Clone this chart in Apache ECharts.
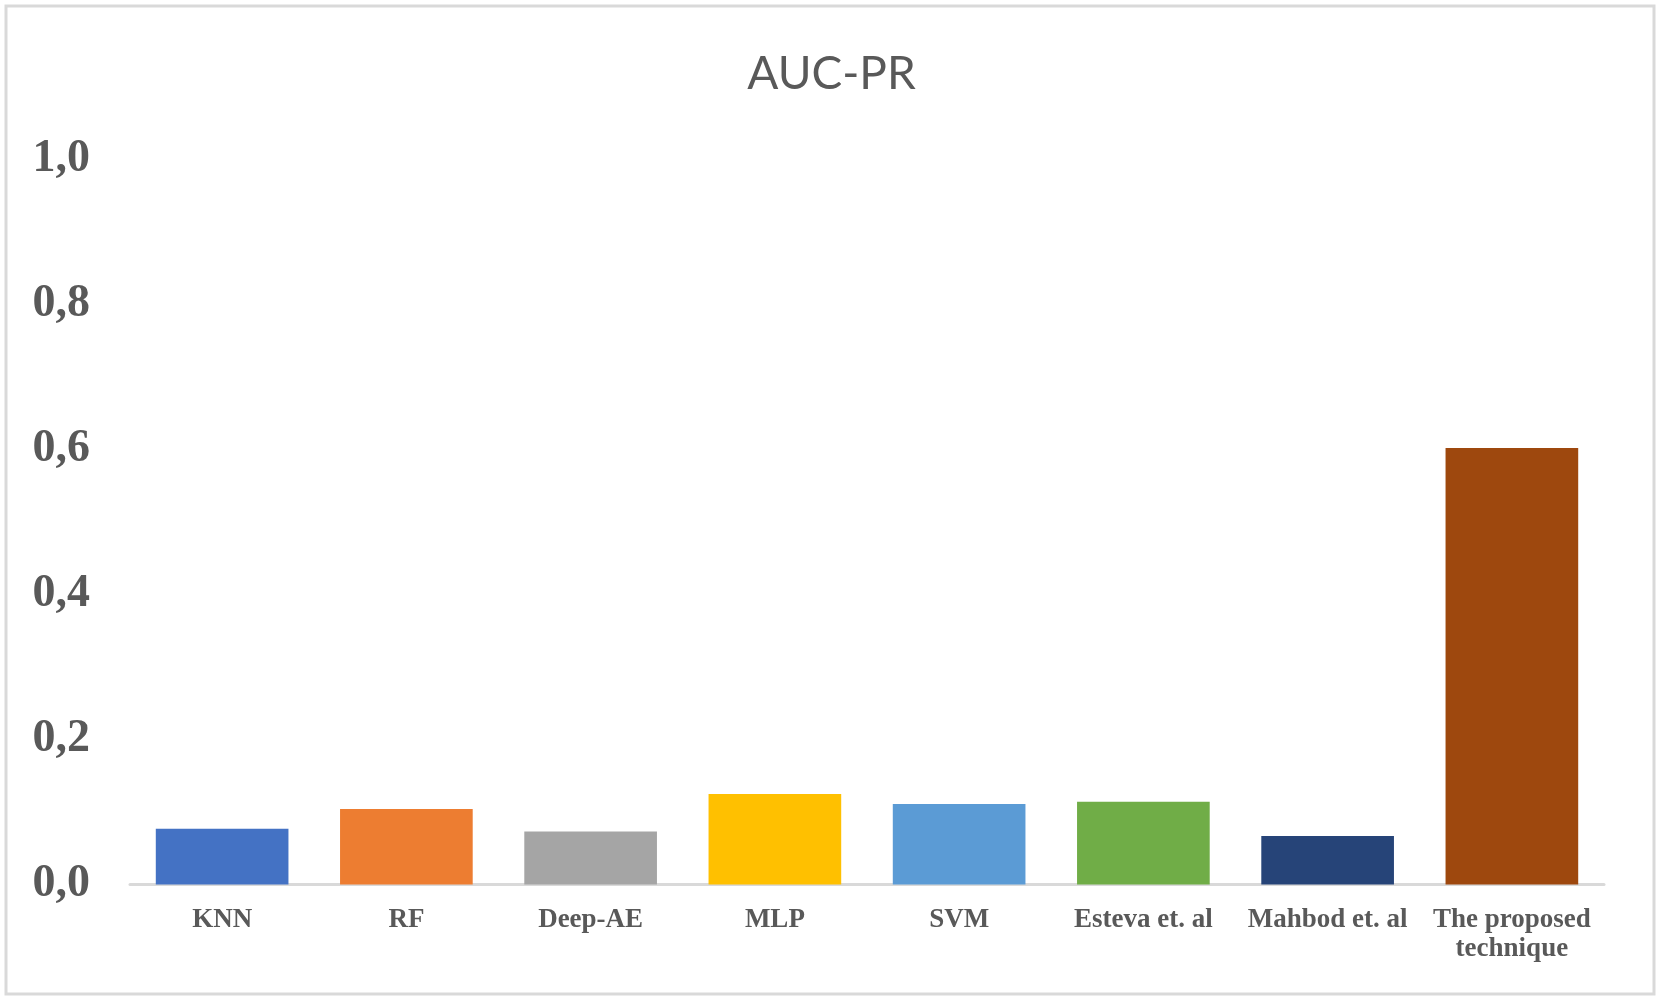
<!DOCTYPE html>
<html>
<head>
<meta charset="utf-8">
<script src="https://cdn.jsdelivr.net/npm/echarts@6/dist/echarts.min.js"></script>
<style>
html,body{margin:0;padding:0;background:#fff;}
#chart{width:1663px;height:1003px;}
</style>
</head>
<body>
<div id="chart"></div>
<script>
const categories = ['KNN', 'RF', 'Deep-AE', 'MLP', 'SVM', 'Esteva et. al', 'Mahbod et. al', 'The proposed\ntechnique'];
const values = [0.077, 0.104, 0.073, 0.125, 0.111, 0.114, 0.067, 0.602];
const barColors = ['#4472C4', '#ED7D31', '#A5A5A5', '#FFC000', '#5B9BD5', '#70AD47', '#264478', '#9E480E'];
const yTicks = [0, 0.2, 0.4, 0.6, 0.8, 1.0];

const chart = echarts.init(document.getElementById('chart'));
chart.setOption({
  backgroundColor: '#ffffff',
  animation: false,
  title: {
    text: 'AUC-PR',
    left: 'center',
    top: 46,
    textStyle: { fontFamily: 'Lato', fontSize: 46, fontWeight: 'normal', color: '#595959' }
  },
  graphic: [{
    type: 'rect',
    shape: { x: 6, y: 6, width: 1648, height: 988 },
    style: { fill: 'none', stroke: '#d9d9d9', lineWidth: 3 },
    silent: true
  }],
  grid: { left: 130, right: 59, top: 159.5, bottom: 118.5 },
  xAxis: {
    type: 'category',
    data: categories,
    axisLine: { lineStyle: { color: '#d9d9d9', width: 3 } },
    axisTick: { show: false },
    axisLabel: {
      interval: 0,
      margin: 21,
      fontFamily: 'Liberation Serif',
      fontWeight: 'bold',
      fontSize: 27,
      lineHeight: 29,
      color: '#595959'
    }
  },
  yAxis: {
    type: 'value',
    min: yTicks[0],
    max: yTicks[yTicks.length - 1],
    interval: 0.2,
    splitLine: { show: false },
    axisLine: { show: false },
    axisTick: { show: false },
    axisLabel: {
      margin: 40,
      fontFamily: 'Liberation Serif',
      fontWeight: 'bold',
      fontSize: 46,
      color: '#595959',
      formatter: v => v.toFixed(1).replace('.', ',')
    }
  },
  series: [{
    type: 'bar',
    data: values.map((v, i) => ({ value: v, itemStyle: { color: barColors[i] } })),
    barCategoryGap: '28%'
  }]
});
</script>
</body>
</html>
